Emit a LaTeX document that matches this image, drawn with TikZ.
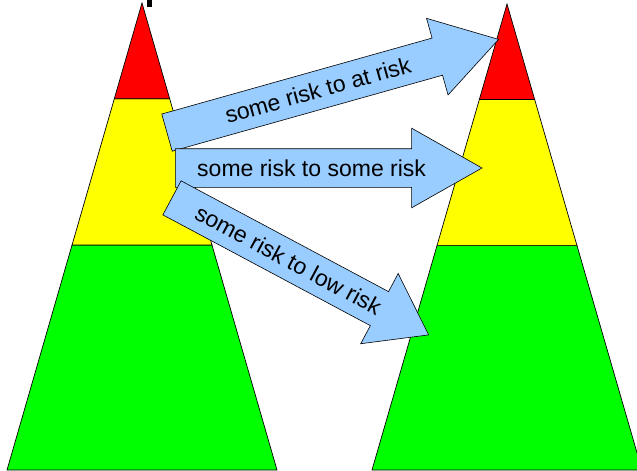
\documentclass[tikz,border=0pt]{standalone}
\usepackage{fontspec}
\setmainfont{Liberation Sans}
\usetikzlibrary{calc,shapes.arrows}
\definecolor{riskRed}{RGB}{255,0,0}
\definecolor{riskYellow}{RGB}{255,255,0}
\definecolor{riskGreen}{RGB}{0,255,0}
\definecolor{moveBlue}{RGB}{153,204,255}

\begin{document}
\begin{tikzpicture}[x=1pt,y=-1pt,
    band/.style={draw=black, line width=0.7pt, line join=miter},
    move/.style={single arrow, draw=black, line width=0.6pt, fill=moveBlue,
      font=\fontsize{23}{27}\selectfont, text height=16pt, text depth=0pt,
      inner ysep=11pt, inner xsep=0pt, single arrow head extend=20.5pt, anchor=tail}]
    \useasboundingbox (0,0) rectangle (637,471);
    \clip (0,0) rectangle (637,471);

    % left pyramid
    \coordinate (lTop) at (142,3);
    \coordinate (lLeft) at (7,470);
    \coordinate (lRight) at (277,470);
    \draw[band, fill=riskGreen] ($(lTop)!0.518!(lLeft)$) -- (lLeft) -- (lRight) -- ($(lTop)!0.518!(lRight)$) -- cycle;
    \draw[band, fill=riskYellow] ($(lTop)!0.205!(lLeft)$) -- ($(lTop)!0.518!(lLeft)$) -- ($(lTop)!0.518!(lRight)$) -- ($(lTop)!0.205!(lRight)$) -- cycle;
    \draw[band, fill=riskRed] (lTop) -- ($(lTop)!0.205!(lLeft)$) -- ($(lTop)!0.205!(lRight)$) -- cycle;
    \fill (147,0) rectangle (152,7);

    % right pyramid
    \coordinate (rTop) at (507,4);
    \coordinate (rLeft) at (372,470);
    \coordinate (rRight) at (642,470);
    \draw[band, fill=riskGreen] ($(rTop)!0.518!(rLeft)$) -- (rLeft) -- (rRight) -- ($(rTop)!0.518!(rRight)$) -- cycle;
    \draw[band, fill=riskYellow] ($(rTop)!0.205!(rLeft)$) -- ($(rTop)!0.518!(rLeft)$) -- ($(rTop)!0.518!(rRight)$) -- ($(rTop)!0.205!(rRight)$) -- cycle;
    \draw[band, fill=riskRed] (rTop) -- ($(rTop)!0.205!(rLeft)$) -- ($(rTop)!0.205!(rRight)$) -- cycle;

    % moves between the levels
    \node[move, minimum height=344.5pt, rotate=15.7, single arrow tip angle=64] (atRisk) at (166.7,132.7) {some risk to at risk};
    \node[move, minimum height=306.7pt, single arrow tip angle=59] (someRisk) at (175,168) {some risk to some risk};
    \node[move, minimum height=291pt, rotate=-28.1, single arrow tip angle=71] (lowRisk) at (171.7,197.7) {some risk to low risk};
\end{tikzpicture}
\end{document}
